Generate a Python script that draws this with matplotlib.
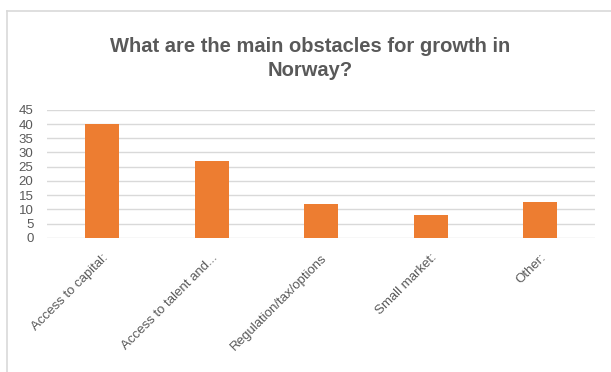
import matplotlib.pyplot as plt
from matplotlib.lines import Line2D

categories = ["Access to capital:", "Access to talent and...", "Regulation/tax/options",
              "Small market:", "Other:"]
values = [40, 27, 12, 8, 12.7]
y_ticks = [0, 5, 10, 15, 20, 25, 30, 35, 40, 45]

title = "What are the main obstacles for growth in\nNorway?"
bar_color = "#ED7D31"
text_color = "#595959"
grid_color = "#d9d9d9"

plt.rcParams['font.family'] = ['Liberation Sans', 'DejaVu Sans']

fig = plt.figure(figsize=(6.11, 3.72), dpi=100)
ax = fig.add_axes([0.0774, 0.361, 0.974 - 0.0774, 0.7046 - 0.361])

# bars
x = range(len(categories))
ax.bar(x, values, width=0.31, color=bar_color, zorder=3)

ax.set_xlim(-0.5, len(categories) - 0.5)
ax.set_ylim(0, 45)
ax.set_yticks(y_ticks)
ax.set_xticks(list(x))
ax.set_xticklabels(categories, rotation=45, ha='right', rotation_mode='anchor')

ax.tick_params(axis='y', length=0, pad=10, labelsize=9.5, labelcolor=text_color)
ax.tick_params(axis='x', length=0, pad=10, labelsize=9.5, labelcolor=text_color)

ax.grid(axis='y', color=grid_color, linewidth=1, zorder=0)
for s in ax.spines.values():
    s.set_visible(False)

fig.text(0.508, 0.843, title, ha='center', va='center', fontsize=14.5,
         fontweight='bold', color=text_color, linespacing=1.35)

# chart frame (top and left edge visible)
fig.add_artist(Line2D([6.5 / 611, 1.0], [1 - 10.5 / 372] * 2, color=grid_color, lw=1.2))
fig.add_artist(Line2D([6.5 / 611] * 2, [0.0, 1 - 10.5 / 372], color=grid_color, lw=1.2))

fig.savefig("out.png", dpi=100)
